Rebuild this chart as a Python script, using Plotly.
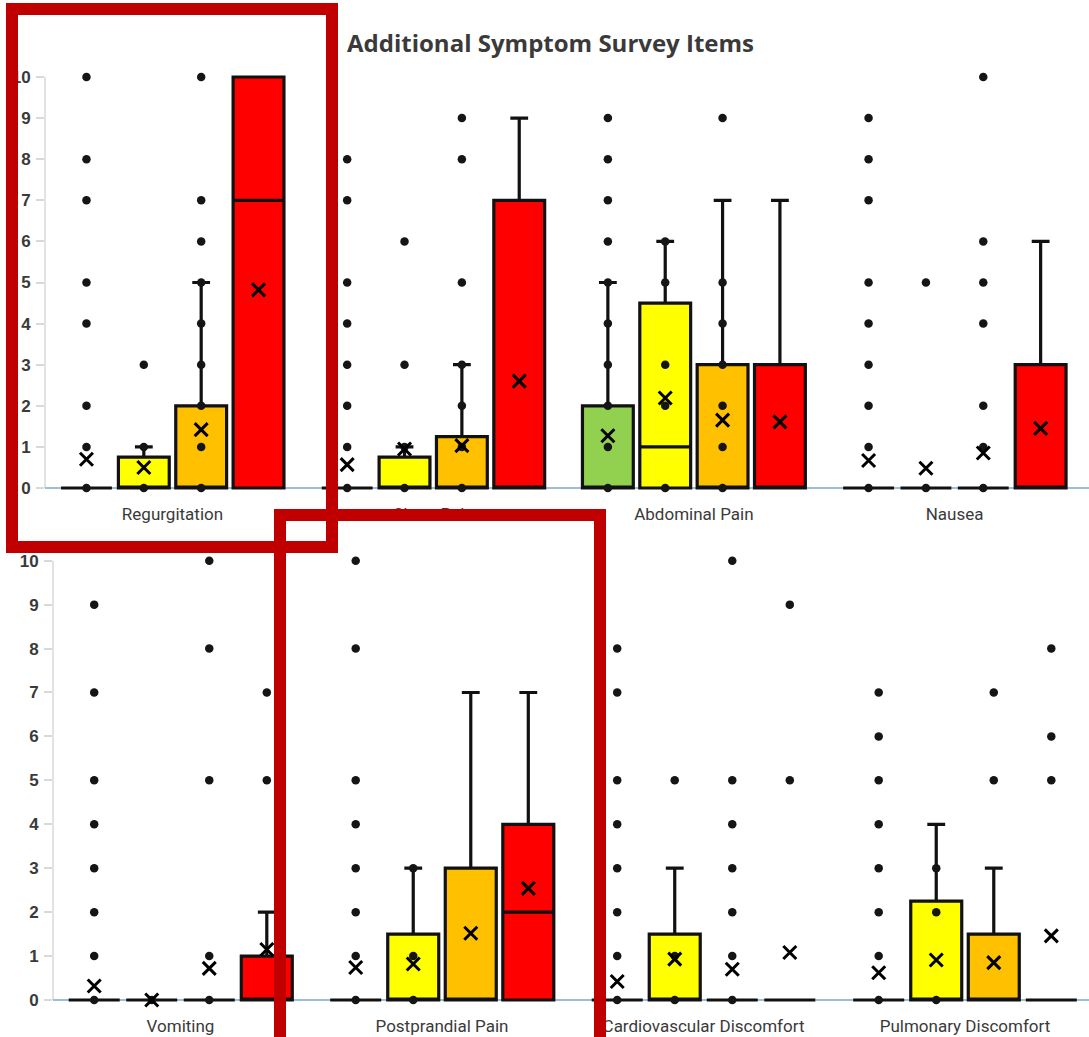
import plotly.graph_objects as go

# ---------------- DATA ----------------
top_categories = ["Regurgitation", "Chest Pain", "Abdominal Pain", "Nausea"]
bottom_categories = ["Vomiting", "Postprandial Pain", "Cardiovascular Discomfort", "Pulmonary Discomfort"]
series_names = ["Green group", "Yellow group", "Orange group", "Red group"]
series_colors = ["#92D050", "#FFFF00", "#FFC000", "#FF0000"]
y_ticks = [0, 1, 2, 3, 4, 5, 6, 7, 8, 9, 10]

# rows = series (green, yellow, orange, red); columns = categories
top_q1 = [[0, 0, 0, 0], [0, 0, 0, 0], [0, 0, 0, 0], [0, 0, 0, 0]]
top_median = [[0, 0, 0, 0], [0, 0, 1, 0], [0, 0, 0, 0], [7, 0, 0, 0]]
top_q3 = [[0, 0, 2, 0], [0.75, 0.75, 4.5, 0], [2, 1.25, 3, 0], [10, 7, 3, 3]]
top_lower = [[0, 0, 0, 0], [0, 0, 0, 0], [0, 0, 0, 0], [0, 0, 0, 0]]
top_upper = [[0, 0, 5, 0], [1, 1, 6, 0], [5, 3, 7, 0], [10, 9, 7, 6]]
top_mean = [[0.70, 0.57, 1.27, 0.67], [0.50, 0.95, 2.19, 0.48],
            [1.42, 1.03, 1.65, 0.85], [4.82, 2.60, 1.61, 1.45]]
top_points = [
    [[0, 1, 2, 4, 5, 7, 8, 10], [0, 1, 2, 3, 4, 5, 7, 8], [0, 1, 2, 3, 4, 5, 6, 7, 8, 9], [0, 1, 2, 3, 4, 5, 7, 8, 9]],
    [[0, 1, 3], [0, 1, 3, 6], [0, 2, 3, 5, 6], [0, 5]],
    [[0, 1, 2, 3, 4, 5, 6, 7, 10], [0, 1, 2, 3, 5, 8, 9], [0, 1, 2, 3, 4, 5, 9], [0, 1, 2, 4, 5, 6, 10]],
    [[], [], [], []],
]

bottom_q1 = [[0, 0, 0, 0], [0, 0, 0, 0], [0, 0, 0, 0], [0, 0, 0, 0]]
bottom_median = [[0, 0, 0, 0], [0, 0, 0, 0], [0, 0, 0, 0], [0, 2, 0, 0]]
bottom_q3 = [[0, 0, 0, 0], [0, 1.5, 1.5, 2.25], [0, 3, 0, 1.5], [1, 4, 0, 0]]
bottom_lower = [[0, 0, 0, 0], [0, 0, 0, 0], [0, 0, 0, 0], [0, 0, 0, 0]]
bottom_upper = [[0, 0, 0, 0], [0, 3, 3, 4], [0, 7, 0, 3], [2, 7, 0, 0]]
bottom_mean = [[0.32, 0.74, 0.42, 0.62], [0.0, 0.82, 0.93, 0.91],
               [0.72, 1.52, 0.70, 0.85], [1.15, 2.54, 1.08, 1.46]]
bottom_points = [
    [[0, 1, 2, 3, 4, 5, 7, 9], [0, 1, 2, 3, 4, 5, 8, 10], [0, 1, 2, 3, 4, 5, 7, 8], [0, 1, 2, 3, 4, 5, 6, 7]],
    [[0], [0, 1, 3], [0, 1, 5], [0, 2, 3]],
    [[0, 1, 5, 8, 10], [], [0, 1, 2, 3, 4, 5, 10], [5, 7]],
    [[5, 7], [], [5, 9], [5, 6, 8]],
]

# ---------------- LAYOUT CONSTANTS ----------------
W, H = 1089, 1037
BOX_STEP = 0.22
BOX_WIDTH = 0.195
TEXT_COLOR = "#3A3A3A"
AXIS_GRAY = "#D9D9D9"

fig = go.Figure()


def add_panel(cats, q1, med, q3, low, up, mean, pts, xa, ya):
    n = len(cats)
    for k in range(len(series_names)):
        xs = [g + (k - 1.5) * BOX_STEP for g in range(n)]
        fig.add_trace(go.Box(
            x=xs, q1=q1[k], median=med[k], q3=q3[k],
            lowerfence=low[k], upperfence=up[k],
            width=BOX_WIDTH, whiskerwidth=0.35,
            fillcolor=series_colors[k],
            line=dict(color="#111111", width=3.2),
            boxpoints=False, name=series_names[k],
            xaxis=xa, yaxis=ya, showlegend=False, hoverinfo="skip"))
    for k in range(len(series_names)):
        px, py = [], []
        for g in range(n):
            for v in pts[k][g]:
                px.append(g + (k - 1.5) * BOX_STEP)
                py.append(v)
        fig.add_trace(go.Scatter(
            x=px, y=py, mode="markers", xaxis=xa, yaxis=ya,
            marker=dict(color="#151515", size=8.5, line=dict(width=0)),
            showlegend=False, hoverinfo="skip"))
    for k in range(len(series_names)):
        xs = [g + (k - 1.5) * BOX_STEP for g in range(n)]
        fig.add_trace(go.Scatter(
            x=xs, y=mean[k], mode="markers", xaxis=xa, yaxis=ya,
            marker=dict(symbol="x-thin", size=13, color="black",
                        line=dict(width=3, color="black")),
            showlegend=False, hoverinfo="skip"))


add_panel(top_categories, top_q1, top_median, top_q3, top_lower, top_upper,
          top_mean, top_points, "x", "y")
add_panel(bottom_categories, bottom_q1, bottom_median, bottom_q3, bottom_lower,
          bottom_upper, bottom_mean, bottom_points, "x2", "y2")

# pixel geometry -> axis ranges
# top panel
t_left, t_c0, t_ppu = 45, 172.5, 260.7
t_xr = [-(t_c0 - t_left) / t_ppu, -(t_c0 - t_left) / t_ppu + (W - t_left) / t_ppu]
t_y0, t_yppu, t_bot, t_top = 488, 41.1, 500, 56
t_yr = [-(t_bot - t_y0) / t_yppu, (t_y0 - t_top) / t_yppu]
# bottom panel
b_left, b_c0, b_ppu = 53, 180.5, 261.5
b_xr = [-(b_c0 - b_left) / b_ppu, -(b_c0 - b_left) / b_ppu + (W - b_left) / b_ppu]
b_y0, b_yppu, b_bot, b_top = 1000, 43.93, 1012, 548
b_yr = [-(b_bot - b_y0) / b_yppu, (b_y0 - b_top) / b_yppu]

xcat_font = dict(family="Roboto", size=17, color=TEXT_COLOR)
ytick_font = dict(family="Liberation Sans", size=17, color=TEXT_COLOR, weight="bold")

common_x = dict(showgrid=False, zeroline=False, showline=False, ticks="",
                tickfont=xcat_font, fixedrange=True)
common_y = dict(showgrid=False, zeroline=False, showline=False, ticks="outside",
                ticklen=8, tickwidth=1.5, tickcolor=AXIS_GRAY, tickvals=y_ticks,
                tickfont=ytick_font, ticklabelstandoff=2, fixedrange=True)
inner_y = dict(showgrid=False, zeroline=False, showline=False, ticks="inside",
               ticklen=6, tickwidth=1.5, tickcolor=AXIS_GRAY, tickvals=y_ticks,
               showticklabels=False, fixedrange=True)

fig.update_layout(
    width=W, height=H,
    margin=dict(l=0, r=0, t=0, b=0),
    paper_bgcolor="white", plot_bgcolor="white",
    boxmode="overlay",
    xaxis=dict(domain=[t_left / W, 1], range=t_xr, anchor="y",
               tickvals=list(range(len(top_categories))), ticktext=top_categories,
               ticklabelstandoff=2, **common_x),
    yaxis=dict(domain=[1 - t_bot / H, 1 - t_top / H], range=t_yr, anchor="x", **common_y),
    yaxis3=dict(overlaying="y", anchor="x", range=t_yr, side="left", **inner_y),
    xaxis2=dict(domain=[b_left / W, 1], range=b_xr, anchor="y2",
                tickvals=list(range(len(bottom_categories))), ticktext=bottom_categories,
                ticklabelstandoff=2, **common_x),
    yaxis2=dict(domain=[1 - b_bot / H, 1 - b_top / H], range=b_yr, anchor="x2", **common_y),
    yaxis4=dict(overlaying="y2", anchor="x2", range=b_yr, side="left", **inner_y),
)

shapes = []
for xa, ya in (("x", "y"), ("x2", "y2")):
    # vertical axis line from 0 to 10
    shapes.append(dict(type="line", xref=f"{xa} domain", yref=ya, x0=0, x1=0,
                       y0=y_ticks[0], y1=y_ticks[-1],
                       line=dict(color=AXIS_GRAY, width=1.5), layer="below"))
    # horizontal baseline at 0
    shapes.append(dict(type="line", xref=f"{xa} domain", yref=ya, x0=0, x1=1,
                       y0=0, y1=0,
                       line=dict(color="#7BAACA", width=1.6), layer="below"))

# red highlight rectangles
RED = "#C00000"
shapes.append(dict(type="rect", xref="paper", yref="paper",
                   x0=12 / W, x1=332 / W, y0=1 - 547 / H, y1=1 - 9 / H,
                   line=dict(color=RED, width=12), fillcolor="rgba(0,0,0,0)", layer="above"))
shapes.append(dict(type="rect", xref="paper", yref="paper",
                   x0=280 / W, x1=600 / W, y0=1 - 1060 / H, y1=1 - 515 / H,
                   line=dict(color=RED, width=12), fillcolor="rgba(0,0,0,0)", layer="above"))
fig.update_layout(shapes=shapes)

fig.add_annotation(
    text="Additional Symptom Survey Items", xref="paper", yref="paper",
    x=550 / W, y=1 - 42 / H, xanchor="center", yanchor="middle", showarrow=False,
    font=dict(family="Open Sans", size=24, color=TEXT_COLOR, weight="bold"))

fig.write_html("out.html", config={"displayModeBar": False},
               post_script="document.body.style.margin='0';document.body.style.overflow='hidden';")
